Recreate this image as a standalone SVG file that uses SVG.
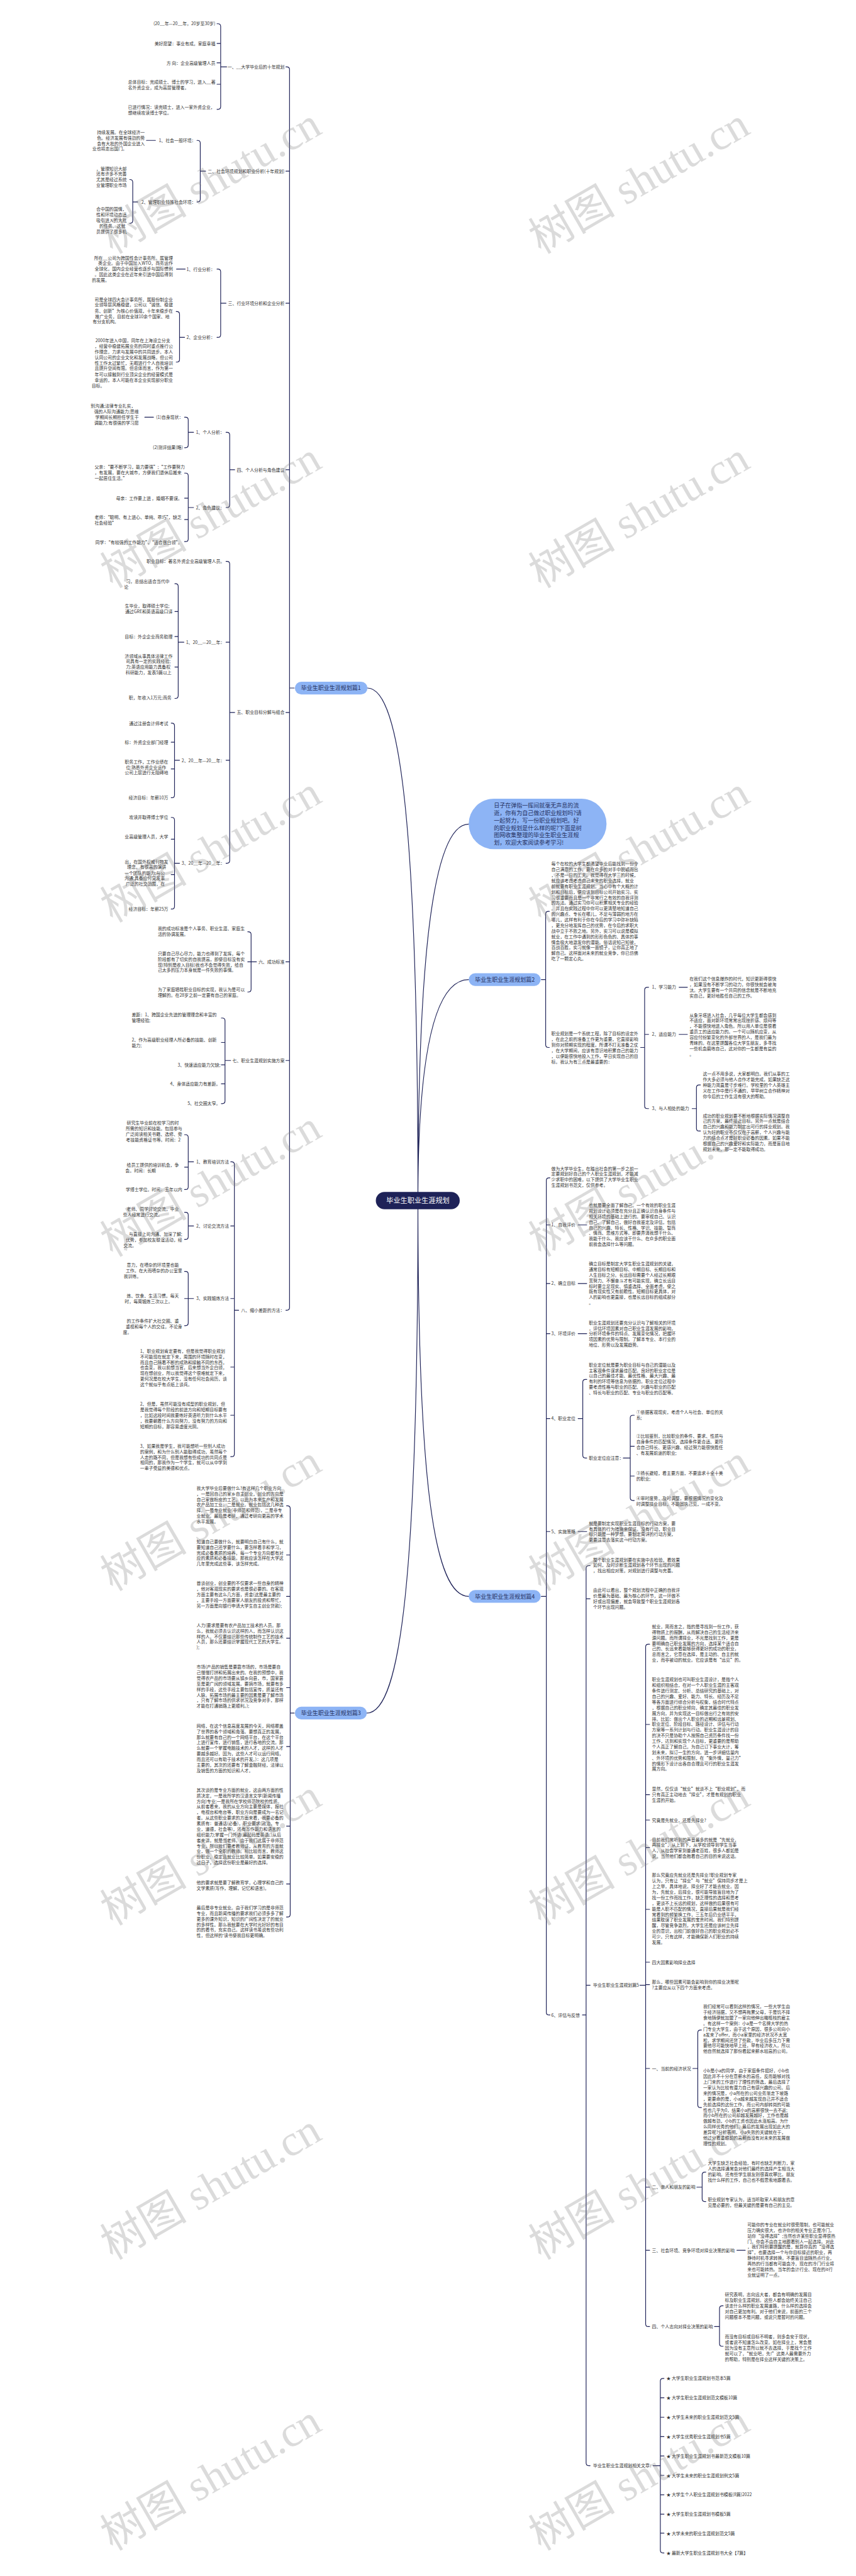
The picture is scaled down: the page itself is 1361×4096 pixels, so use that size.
<svg xmlns="http://www.w3.org/2000/svg" width="1361" height="4096" viewBox="0 0 1361 4096">
<style>
.c{fill:none;stroke:#1e2258;stroke-width:2.2;stroke-linecap:round;stroke-linejoin:round}
.t{font-family:"Noto Sans CJK SC","Noto Sans",sans-serif;font-size:13px;fill:#333}
.e{text-anchor:end}
.nd{fill:#8db4f5}
.nt{font-family:"Noto Sans CJK SC","Noto Sans",sans-serif;font-size:17px;fill:#26305e}
.wm{font-family:"Liberation Serif","Noto Sans CJK SC",serif;font-size:130px;fill:#808080;opacity:.28;text-anchor:middle}
</style>
<rect width="1361" height="4096" fill="#fff"/>
<g transform="scale(0.5316)">
<g id="connectors">
<path class="c" d="M1250,3591 C1250,2500 1200,2058 1099,2058 M1250,3591 C1250,4700 1200,5124 1097,5124 M1250,3591 C1250,2900 1290,2465 1402,2465 M1250,3591 C1250,3150 1300,2930 1402,2930 M1250,3591 C1250,4450 1300,4775 1402,4775"/>
<path class="c" d="M855,200 H858 Q866,200 866,208 V3911 Q866,3919 858,3919 H855 M866,512 H855 M866,907 H855 M866,1405 H855 M866,2131 H855 M866,2877 H855 M866,3172 H855 M880,2058 H866"/>
<path class="c" d="M649,71 H652 Q660,71 660,79 V319 Q660,327 652,327 H649 M660,130 H649 M660,188 H649 M660,252 H649 M678,200 H660"/>
<path class="c" d="M589,420 H591 Q599,420 599,428 V596 Q599,604 591,604 H589 M615,512 H599 M465,420 H438"/>
<path class="c" d="M388,537 H389 Q397,537 397,545 V660 Q397,668 389,668 H388 M412,604 H397"/>
<path class="c" d="M649,805 H652 Q660,805 660,813 V1001 Q660,1009 652,1009 H649 M676,907 H660 M554,805 H528"/>
<path class="c" d="M527,932 H529 Q537,932 537,940 V1075 Q537,1083 529,1083 H527 M552,1009 H537"/>
<path class="c" d="M676,1293 H679 Q687,1293 687,1301 V1510 Q687,1518 679,1518 H676 M702,1405 H687"/>
<path class="c" d="M552,1248 H555 Q563,1248 563,1256 V1331 Q563,1339 555,1339 H552 M579,1293 H563 M459,1248 H433"/>
<path class="c" d="M552,1415 H555 Q563,1415 563,1423 V1612 Q563,1620 555,1620 H552 M563,1490 H552 M563,1554 H552 M579,1518 H563"/>
<path class="c" d="M676,1679 H679 Q687,1679 687,1687 V2574 Q687,2582 679,2582 H676 M687,1921 H676 M687,2274 H676 M702,2131 H687"/>
<path class="c" d="M523,1746 H525 Q533,1746 533,1754 V2081 Q533,2089 525,2089 H523 M533,1829 H523 M533,1904 H523 M533,1995 H523 M550,1921 H533"/>
<path class="c" d="M512,2163 H514 Q522,2163 522,2171 V2378 Q522,2386 514,2386 H512 M522,2220 H512 M522,2300 H512 M537,2274 H522"/>
<path class="c" d="M512,2445 H514 Q522,2445 522,2453 V2711 Q522,2719 514,2719 H512 M522,2510 H512 M522,2616 H512 M537,2582 H522"/>
<path class="c" d="M741,2787 H743 Q751,2787 751,2795 V2959 Q751,2967 743,2967 H741 M767,2877 H741"/>
<path class="c" d="M662,3045 H665 Q673,3045 673,3053 V3293 Q673,3301 665,3301 H662 M673,3118 H662 M673,3185 H662 M673,3242 H662 M690,3172 H673"/>
<path class="c" d="M690,3475 H693 Q701,3475 701,3483 V4349 Q701,4357 693,4357 H690 M701,3667 H690 M701,3884 H690 M701,4089 H690 M701,4233 H690 M714,3919 H701"/>
<path class="c" d="M552,3394 H555 Q563,3394 563,3402 V3550 Q563,3558 555,3558 H552 M563,3491 H552 M579,3475 H563"/>
<path class="c" d="M552,3626 H555 Q563,3626 563,3634 V3699 Q563,3707 555,3707 H552 M579,3667 H563"/>
<path class="c" d="M552,3803 H555 Q563,3803 563,3811 V3957 Q563,3965 555,3965 H552 M579,3884 H552"/>
<path class="c" d="M857,4504 H860 Q868,4504 868,4512 V5726 Q868,5734 860,5734 H857 M868,4651 H857 M868,4775 H857 M868,4900 H857 M868,5048 H857 M868,5224 H857 M868,5462 H857 M868,5635 H857 M880,5124 H868"/>
<path class="c" d="M1643,2726 H1640 Q1632,2726 1632,2734 V3125 Q1632,3133 1640,3133 H1643 M1619,2930 H1632"/>
<path class="c" d="M1940,2953 H1936 Q1928,2953 1928,2961 V3308 Q1928,3316 1936,3316 H1940 M1928,3094 H1940 M1916,3133 H1928 M2031,2953 H2056 M2031,3094 H2056"/>
<path class="c" d="M2095,3245 H2091 Q2083,3245 2083,3253 V3375 Q2083,3383 2091,3383 H2095 M2070,3316 H2083"/>
<path class="c" d="M1645,3523 H1642 Q1634,3523 1634,3531 V6019 Q1634,6027 1642,6027 H1645 M1634,3664 H1645 M1634,3839 H1645 M1634,3989 H1645 M1634,4243 H1645 M1634,4581 H1645 M1619,4775 H1634"/>
<path class="c" d="M1729,3664 H1755 M1729,3839 H1755 M1729,3989 H1755 M1729,4581 H1755"/>
<path class="c" d="M1755,4126 H1751 Q1743,4126 1743,4134 V4353 Q1743,4361 1751,4361 H1755 M1729,4243 H1743"/>
<path class="c" d="M1897,4233 H1893 Q1885,4233 1885,4241 V4480 Q1885,4488 1893,4488 H1897 M1885,4326 H1897 M1885,4415 H1897 M1864,4361 H1885"/>
<path class="c" d="M1765,4683 H1761 Q1753,4683 1753,4691 V7367 Q1753,7375 1761,7375 H1765 M1753,4782 H1765 M1753,5938 H1765 M1742,6027 H1753"/>
<path class="c" d="M1943,4918 H1939 Q1931,4918 1931,4926 V6951 Q1931,6959 1939,6959 H1943 M1931,5158 H1943 M1931,5368 H1943 M1931,5444 H1943 M1931,5526 H1943 M1931,5711 H1943 M1931,5869 H1943 M1931,5936 H1943 M1931,6187 H1943 M1931,6542 H1943 M1931,6731 H1943 M1914,5938 H1931"/>
<path class="c" d="M2098,6072 H2095 Q2087,6072 2087,6080 V6296 Q2087,6304 2095,6304 H2098 M2072,6187 H2087"/>
<path class="c" d="M2111,6497 H2108 Q2100,6497 2100,6505 V6577 Q2100,6585 2108,6585 H2111 M2084,6542 H2100 M2204,6731 H2229"/>
<path class="c" d="M2163,6897 H2160 Q2152,6897 2152,6905 V7010 Q2152,7018 2160,7018 H2163 M2137,6959 H2152"/>
<path class="c" d="M1986,7114 H1983 Q1975,7114 1975,7122 V7628 Q1975,7636 1983,7636 H1986 M1975,7172 H1986 M1975,7230 H1986 M1975,7288 H1986 M1975,7346 H1986 M1975,7404 H1986 M1975,7462 H1986 M1975,7520 H1986 M1975,7577 H1986 M1953,7375 H1975"/>
</g>

<g id="center">
<rect x="1124" y="3565" width="251" height="52" rx="26" fill="#1e2258"/>
<text x="1250" y="3598" text-anchor="middle" style="font-family:'Noto Sans CJK SC',sans-serif;font-size:21px;fill:#fff">毕业生职业生涯规划</text>
</g>

<g id="intro">
<rect class="nd" x="1402" y="2389" width="412" height="151" rx="75"/>
<text class="nt" x="1477" y="2415">日子在弹指一挥间就毫无声息的流<tspan x="1477" dy="22.4">逝，你有为自己做过职业规划吗?请</tspan><tspan x="1477" dy="22.4">一起努力，写一份职业规划吧。好</tspan><tspan x="1477" dy="22.4">的职业规划是什么样的呢?下面是树</tspan><tspan x="1477" dy="22.4">图网收集整理的毕业生职业生涯规</tspan><tspan x="1477" dy="22.4">划，欢迎大家阅读参考学习!</tspan></text>
</g>

<g id="p1">
<rect class="nd" x="882" y="2039" width="217" height="38" rx="19"/>
<text class="nt" x="990" y="2064" text-anchor="middle">毕业生职业生涯规划篇1</text>
<text class="t e" x="851" y="205">一、__大学毕业后的十年规划</text>
<text class="t e" x="851" y="517">二、社会环境规划和职业分析(十年规划)</text>
<text class="t e" x="851" y="912">三、行业环境分析和企业分析</text>
<text class="t e" x="851" y="1410">四、个人分析与角色建议</text>
<text class="t e" x="851" y="2136">五、职业目标分解与组合</text>
<text class="t e" x="851" y="2882">六、成功标准</text>
<text class="t e" x="851" y="3177">七、职业生涯规划实施方案</text>
<text class="t e" x="851" y="3924">八、缩小差距的方法：</text>

<text class="t e" x="644" y="76">(20__年—20__年，20岁至30岁)</text>
<text class="t e" x="644" y="135">美好愿望：事业有成，家庭幸福</text>
<text class="t e" x="644" y="193">方 向：企业高级管理人员</text>
<text class="t" x="383" y="251">总体目标：完成硕士、博士的学习，进入__著<tspan x="383" dy="16.7">名外资企业，成为高层管理者。</tspan></text>
<text class="t" x="383" y="325">已进行情况：读完硕士，进入一家外资企业，<tspan x="383" dy="16.7">想继续攻读博士学位。</tspan></text>

<text class="t e" x="586" y="425">1、社会一般环境：</text>
<text class="t e" x="586" y="609">2、管理职业特殊社会环境：</text>
<text class="t e" x="433" y="401">持续发展。在全球经济一</text>
<text class="t e" x="433" y="417">色。经济发展有强劲的势</text>
<text class="t e" x="433" y="434">会有大批的外国企业进入</text>
<text class="t e" x="380" y="450">业也将走出国门。</text>
<text class="t e" x="379" y="509">，管理知识大部</text>
<text class="t e" x="379" y="525">还有许多不完善</text>
<text class="t e" x="379" y="542">尤其是经过系统</text>
<text class="t e" x="379" y="559">业管理职业市场</text>
<text class="t e" x="379" y="631">合中国的国情，</text>
<text class="t e" x="379" y="647">性和环境动态适</text>
<text class="t e" x="379" y="664">吸引进入的大批</text>
<text class="t e" x="375" y="681">的任务。这就</text>
<text class="t e" x="379" y="698">员提供了很多机</text>

<text class="t e" x="643" y="810">1、行业分析：</text>
<text class="t e" x="643" y="1014">2、企业分析：</text>
<text class="t e" x="517" y="776">所在__公司为跨国性会计事务所。属管理</text>
<text class="t e" x="517" y="792">类企业。由于中国加入WTO，商务运作</text>
<text class="t e" x="517" y="809">全球化，国内企业经营也逐步与国际惯例</text>
<text class="t e" x="517" y="826">。因此这类企业在近年来引进中国后得到</text>
<text class="t e" x="327" y="842">的发展。</text>
<text class="t e" x="517" y="901">司是全球四大会计事务所，属股份制企业</text>
<text class="t e" x="517" y="917">业领导层风格稳健，公司以“诚信、稳健</text>
<text class="t e" x="517" y="934">务、创新”为核心价值观，十年来稳步在</text>
<text class="t e" x="507" y="951">推广业务，目前在全球10余个国家、地</text>
<text class="t e" x="355" y="967">有分支机构。</text>
<text class="t e" x="509" y="1024">2000年进入中国，同年在上海设立分支</text>
<text class="t e" x="517" y="1040">，经营中稳健拓展业务的同时重点推行公</text>
<text class="t e" x="517" y="1057">作理念，力求与发展中的共同进步。本人</text>
<text class="t e" x="517" y="1074">认同公司的企业文化和发展战略，但公司</text>
<text class="t e" x="517" y="1091">性工作太过繁忙，无暇进行个人自我培训</text>
<text class="t e" x="517" y="1107">且提升空间有限。但总体而言，作为第一</text>
<text class="t e" x="517" y="1124">年可以接触到行业顶尖企业的经营模式是</text>
<text class="t e" x="517" y="1141">幸运的，本人可能在本企业实现部分职业</text>
<text class="t e" x="313" y="1158">目标。</text>

<text class="t e" x="671" y="1298">1、个人分析：</text>
<text class="t e" x="671" y="1523">2、角色建议：</text>
<text class="t e" x="548" y="1253">(1)自身现状：</text>
<text class="t e" x="547" y="1344">(2)测评结果(略)</text>
<text class="t e" x="405" y="1219">别沟通;法律专业扎实，</text>
<text class="t e" x="415" y="1235">强的人际沟通能力;思维</text>
<text class="t e" x="415" y="1252">学期间长期担任学生干</text>
<text class="t e" x="415" y="1269">调能力;有很强的学习愿</text>
<text class="t" x="283" y="1402">父亲：“要不断学习，能力要强”;“工作要努力<tspan x="283" dy="16.7">，有发展，要在大城市，方便我们退休后搬来</tspan><tspan x="283" dy="16.7">一起居住生活。”</tspan></text>
<text class="t e" x="545" y="1495">母亲：工作要上进 ，婚姻不要误。</text>
<text class="t" x="283" y="1552">老师：“聪明、有上进心、单纯、乖巧”，缺乏<tspan x="283" dy="16.7">社会经验”</tspan></text>
<text class="t e" x="545" y="1627">同学：“有较强的工作能力”，“适合做白领”。</text>

<text class="t e" x="672" y="1684">职业目标：著名外资企业高级管理人员。</text>
<text class="t e" x="672" y="1926">1、20__—20__年：</text>
<text class="t e" x="672" y="2279">2、20__年—20__年：</text>
<text class="t e" x="672" y="2587">3、20__年—20__年：</text>
<text class="t e" x="507" y="1743">习，总结出适合当代中</text>
<text class="t e" x="384" y="1760">论</text>
<text class="t e" x="507" y="1818">生毕业，取得硕士学位;</text>
<text class="t e" x="516" y="1834">通过GRE和英语高级口译</text>
<text class="t e" x="516" y="1909">目标：外企企业商务助理</text>
<text class="t e" x="516" y="1967">济领域从事具体法律工作</text>
<text class="t e" x="510" y="1983">司具有一定的实践经验;</text>
<text class="t e" x="510" y="2000">力;英语应用能力具备权</text>
<text class="t e" x="513" y="2017">科研能力，发表5篇以上</text>
<text class="t e" x="513" y="2092">职，年收入1万元;商务</text>
<text class="t e" x="503" y="2168">通过注册会计师考试</text>
<text class="t e" x="503" y="2225">标：外资企业部门经理</text>
<text class="t e" x="503" y="2283">职务工作，工作业绩在</text>
<text class="t e" x="497" y="2300">位;熟悉外资企业运作</text>
<text class="t e" x="503" y="2316">公司上层进行无阻碍地</text>
<text class="t e" x="503" y="2391">经济目标：年薪10万</text>
<text class="t e" x="503" y="2450">攻读并取得博士学位</text>
<text class="t e" x="503" y="2508">业高级管理人员，大学</text>
<text class="t e" x="503" y="2582">出，在国外权威刊物发</text>
<text class="t e" x="497" y="2598">理念，有很高的演讲</text>
<text class="t e" x="493" y="2616">一个团队的能力;与公</text>
<text class="t e" x="493" y="2632">沟通;具备应付突发事</text>
<text class="t e" x="493" y="2649">广泛的社交范围，在</text>
<text class="t e" x="503" y="2724">经济目标：年薪25万</text>

<text class="t" x="472" y="2783">我的成功标准是个人事务、职业生涯、家庭生<tspan x="472" dy="16.7">活的协调发展。</tspan></text>
<text class="t" x="472" y="2857">只要自己尽心尽力，能力也得到了发挥，每个<tspan x="472" dy="16.7">阶段都有了切实的自我提高，即使目标没有实</tspan><tspan x="472" dy="16.7">现(特别是收入目标)我也不会觉得失败，给自</tspan><tspan x="472" dy="16.7">己太多的压力本身就是一件失败的事情。</tspan></text>
<text class="t" x="472" y="2965">为了家庭牺牲职业目标的实现，我认为是可以<tspan x="472" dy="16.7">理解的。在28岁之前一定要有自己的家庭。</tspan></text>

<text class="t" x="394" y="3040">差距：1、跨国企业先进的管理理念和丰富的<tspan x="394" dy="16.7">管理经验;</tspan></text>
<text class="t" x="394" y="3115">2、作为高级职业经理人所必备的技能、创新<tspan x="394" dy="16.7">能力;</tspan></text>
<text class="t e" x="659" y="3190">3、快速适应能力欠缺;</text>
<text class="t e" x="659" y="3247">4、身体适应能力有差距。</text>
<text class="t e" x="659" y="3306">5、社交圈太窄。</text>

<text class="t e" x="685" y="3480">1、教育培训方法</text>
<text class="t e" x="685" y="3672">2、讨论交流方法</text>
<text class="t e" x="685" y="3889">3、实践锻炼方法</text>
<text class="t e" x="535" y="3364">研究生毕业前在校学习的时</text>
<text class="t e" x="545" y="3380">所需的知识和技能。包括参与</text>
<text class="t e" x="545" y="3397">广泛阅读相关书籍、选修、旁</text>
<text class="t e" x="540" y="3414">考技能资格证书等。时间：2</text>
<text class="t e" x="535" y="3489">给员工提供的培训机会，争</text>
<text class="t e" x="466" y="3506">会。时间：长期</text>
<text class="t e" x="545" y="3563">学博士学位。时间：五年以内</text>
<text class="t e" x="535" y="3622">老师、同学讨论交流，毕业</text>
<text class="t e" x="485" y="3639">些人经常进行交流。</text>
<text class="t e" x="545" y="3696">与直接上司沟通、加深了解;</text>
<text class="t e" x="545" y="3713">优势，参加校友联谊活动，经</text>
<text class="t e" x="408" y="3730">交流。</text>
<text class="t e" x="535" y="3788">意力，在嘈杂的环境里也能</text>
<text class="t e" x="545" y="3805">工作。在大而嘈杂的办公室里</text>
<text class="t e" x="422" y="3822">我训练。</text>
<text class="t e" x="535" y="3880">炼、饮食、生活习惯。每天</text>
<text class="t e" x="516" y="3897">时，每周锻炼三次以上。</text>
<text class="t e" x="535" y="3956">的工作条件扩大社交圈、重</text>
<text class="t e" x="545" y="3972">重视和每个人的交往，不论身</text>
<text class="t e" x="394" y="3989">度。</text>

<text class="t" x="419" y="4046">1、职业规划肯定要有，但是我觉得职业规划<tspan x="419" dy="16.7">不可能现在就定下来，周围的环境随时在变，</tspan><tspan x="419" dy="16.7">而且自己随着不断的成熟和接触不同的东西，</tspan><tspan x="419" dy="16.7">也会变。我以前想当官，后来想当外企白领，</tspan><tspan x="419" dy="16.7">现在想创业，所以我觉得这个很难就定下来，</tspan><tspan x="419" dy="16.7">更何况是在校大学生，没有任何社会阅历，谈</tspan><tspan x="419" dy="16.7">这个就似乎有点纸上谈兵。</tspan></text>
<text class="t" x="419" y="4205">2、但是，虽然可能没有成型的职业规划，但<tspan x="419" dy="16.7">是我觉得每个阶段的前进方向和短期目标要有</tspan><tspan x="419" dy="16.7">，比如这段时间我要练好英语听力到什么水平</tspan><tspan x="419" dy="16.7">，我要朝着什么方向努力，没有努力的方向和</tspan><tspan x="419" dy="16.7">短期的目标，那容易虚度光阴。</tspan></text>
<text class="t" x="419" y="4330">3、如果我是学生，我可能想听一些别人成功<tspan x="419" dy="16.7">的案例，和为什么别人能取得成功，虽然每个</tspan><tspan x="419" dy="16.7">人走的路不同，但是我想有些成功的共同点是</tspan><tspan x="419" dy="16.7">相同的，那我作为一个学生，就可以从中学到</tspan><tspan x="419" dy="16.7">一辈子受益的美德和优点。</tspan></text>
</g>

<g id="p3">
<rect class="nd" x="882" y="5105" width="215" height="38" rx="19"/>
<text class="nt" x="990" y="5130" text-anchor="middle">毕业生职业生涯规划篇3</text>
<text class="t" x="588" y="4456">我大学毕业后要做什么?有这样几个职业方向<tspan x="588" dy="16.7">，一是回自己的家乡自主创业，创业的方向是</tspan><tspan x="588" dy="16.7">自己家做粉皮的工艺，以此为本来生产和发展</tspan><tspan x="588" dy="16.7">农产品加工业；二是就业。就业包括这几种选</tspan><tspan x="588" dy="16.7">择。一是专业就业(非师范和师范)，二是非专</tspan><tspan x="588" dy="16.7">业就业。最后是考研，通过考研向更高的学术</tspan><tspan x="588" dy="16.7">水平发展。</tspan></text>
<text class="t" x="588" y="4616">知道自己要做什么，就要明白自己有什么，就<tspan x="588" dy="16.7">要知道自己还学要什么，要怎样着手和学习，</tspan><tspan x="588" dy="16.7">完成必备素质的培养。每一个专业方向都有对</tspan><tspan x="588" dy="16.7">应的素质和必备技能。那我应该怎样在大学这</tspan><tspan x="588" dy="16.7">几年里完成这些事，该怎样完成。</tspan></text>
<text class="t" x="588" y="4741">首谈创业，创业要的不仅要求一些自身的精神<tspan x="588" dy="16.7">，他对客观现实的要求也是很必要的。在客观</tspan><tspan x="588" dy="16.7">方面主要有这么几方面，资金(这是最主要的</tspan><tspan x="588" dy="16.7">，主要手段一方面要家人朋友的投资和帮忙，</tspan><tspan x="588" dy="16.7">另一方面是向银行申请大学生自主创业贷款);</tspan></text>
<text class="t" x="588" y="4866">人力(要求是要有农产品加工技术的人员。那<tspan x="588" dy="16.7">么，我就必须去认识这样的人，而怎样认识这</tspan><tspan x="588" dy="16.7">样的人，不仅要结识那些传统制作工艺的技术</tspan><tspan x="588" dy="16.7">人员，那么还要结识掌握现代工艺的大学生。</tspan><tspan x="588" dy="16.7">);</tspan></text>
<text class="t" x="588" y="4991">市场(产品的销售是要靠市场的，市场是要自<tspan x="588" dy="16.7">己慢慢打拼和拓展出来的。在我的预想中，我</tspan><tspan x="588" dy="16.7">觉得农产品的市场要从镇乡向县，市，国家甚</tspan><tspan x="588" dy="16.7">至是更广阔的领域发展。要搞市场，就要有多</tspan><tspan x="588" dy="16.7">样的手段，这些手段主要包括宣传，质量还有</tspan><tspan x="588" dy="16.7">人脉。拓展市场的最主要的因素是要了解市场</tspan><tspan x="588" dy="16.7">，只有了解市场的供求状况及竞争对手，那样</tspan><tspan x="588" dy="16.7">才能在打通销路上更顺利。);</tspan></text>
<text class="t" x="588" y="5167">网络，在这个信息高度发展的今天，网络覆盖<tspan x="588" dy="16.7">了世界的各个领域和角落。要想真正的发展，</tspan><tspan x="588" dy="16.7">那么就要有自己的一个网络平台，在这个平台</tspan><tspan x="588" dy="16.7">上进行宣传，进行销售，进行各地的交流。那</tspan><tspan x="588" dy="16.7">么就要一个掌握电脑技术的人才，这样的人才</tspan><tspan x="588" dy="16.7">要越多越好。因为，这些人才可以运行网络，</tspan><tspan x="588" dy="16.7">而且还可以有助于技术的开发。)：这几项是</tspan><tspan x="588" dy="16.7">主要的，其次的还要有了解金融财经，法律以</tspan><tspan x="588" dy="16.7">及销售的方面的知识和人才。</tspan></text>
<text class="t" x="588" y="5359">其次谈的是专业方面的就业，这由两方面的性<tspan x="588" dy="16.7">质决定，一是我所学的汉语言文学(新闻传播</tspan><tspan x="588" dy="16.7">方向)专业;一是我所在学校师范院校的性质。</tspan><tspan x="588" dy="16.7">从前者看来，我的从业方向主要是媒体，报社</tspan><tspan x="588" dy="16.7">，电视台和电台等，职业方向是要成为一名记</tspan><tspan x="588" dy="16.7">者。从这些职业要求的方面来看，我要必备的</tspan><tspan x="588" dy="16.7">素质有：普通话(必备)，职业要求(政治，专</tspan><tspan x="588" dy="16.7">业，道德，社会等)，还有写作能力和语言的</tspan><tspan x="588" dy="16.7">组织能力;掌握一门外语(最起码是英语。)从后</tspan><tspan x="588" dy="16.7">者来讲，就是当老师。由于我们这属于非师范</tspan><tspan x="588" dy="16.7">专业，所以我们要考教师证，从教育的方面就</tspan><tspan x="588" dy="16.7">业，做一个全职的教师。相比较而言，教师这</tspan><tspan x="588" dy="16.7">份职业，稳定且就业比较简单。如果要安稳的</tspan><tspan x="588" dy="16.7">过日子，选择这份职业是最好的选择。</tspan></text>
<text class="t" x="588" y="5636">他的要求就是要了解教育学，心理学和自己的<tspan x="588" dy="16.7">文学素质(写作，理解，记忆和语言)。</tspan></text>
<text class="t" x="588" y="5711">最后是非专业就业。由于我们学习的是非师范<tspan x="588" dy="16.7">专业，而且新闻传播的要求我们必须多多了解</tspan><tspan x="588" dy="16.7">更多的课外知识，知识的广阔性决定了的就业</tspan><tspan x="588" dy="16.7">的多样性。那么我就要在大学时光好好的有目</tspan><tspan x="588" dy="16.7">的的看书，充实自己。这样读书虽说有些功利</tspan><tspan x="588" dy="16.7">性，但这样的'读书使我目标更明确。</tspan></text>
</g>

<g id="p2">
<rect class="nd" x="1402" y="2911" width="215" height="38" rx="19"/>
<text class="nt" x="1510" y="2936" text-anchor="middle">毕业生职业生涯规划篇2</text>
<text class="t" x="1649" y="2589">每个在校的大学生都渴望毕业后能找到一份令<tspan x="1649" dy="16.7">自己满意的工作。要在众多的对手中脱颖而出</tspan><tspan x="1649" dy="16.7">，不是一日的工夫。我觉得在大学三的时候，</tspan><tspan x="1649" dy="16.7">就应该考虑考虑自己未来的职业选择，就业</tspan><tspan x="1649" dy="16.7">前就要有职业生涯规划。当心中有个大概的计</tspan><tspan x="1649" dy="16.7">划和目标后，便应该到目标公司开始实习。实</tspan><tspan x="1649" dy="16.7">习很重要而且是一个非常行之有效的自我评测</tspan><tspan x="1649" dy="16.7">的方法。通过实习你可以积累相关专业的经验</tspan><tspan x="1649" dy="16.7">。并且在实践过程中你可以更清楚地知道自己</tspan><tspan x="1649" dy="16.7">的兴趣点、专长在哪儿，不足与薄弱的地方在</tspan><tspan x="1649" dy="16.7">哪儿，这样有利于你在今后的学习中弥补缺陷</tspan><tspan x="1649" dy="16.7">，更充分地发挥自己的优势，在今后的求职大</tspan><tspan x="1649" dy="16.7">战中立于不败之地。另外，实习可以说是模拟</tspan><tspan x="1649" dy="16.7">就业，在工作中遇到的形形色色的、具体的事</tspan><tspan x="1649" dy="16.7">情会极大地激发你的潜能。俗话说知己知彼，</tspan><tspan x="1649" dy="16.7">百战百胜，实习就像一面镜子，让你真正地了</tspan><tspan x="1649" dy="16.7">解自己。这样面对未来的就业竞争，你已仿佛</tspan><tspan x="1649" dy="16.7">吃了一颗定心丸。</tspan></text>
<text class="t" x="1649" y="3097">职业规划是一个系统工程，除了目标的设定外<tspan x="1649" dy="16.7">，在此之前的准备工作更为重要，它直接影响</tspan><tspan x="1649" dy="16.7">到你对预期实现的程度。所谓不打无准备之仗</tspan><tspan x="1649" dy="16.7">，在大学期间，应该有意识地积累自己的能力</tspan><tspan x="1649" dy="16.7">，以便能很快地投入工作，早日实现自己的目</tspan><tspan x="1649" dy="16.7">标。我认为有三点是最重要的：</tspan></text>
<text class="t" x="1950" y="2958">1、学习能力</text>
<text class="t" x="1950" y="3099">2、适应能力</text>
<text class="t" x="1950" y="3321">3、与人相处的能力</text>
<text class="t" x="2062" y="2933">在我们这个信息爆炸的时代，知识更新得很快<tspan x="2062" dy="16.7">，如果没有不断学习的动力，你很快就会被淘</tspan><tspan x="2062" dy="16.7">汰。大学生要有一个共同的信念就是不断地充</tspan><tspan x="2062" dy="16.7">实自己，更好地胜任自己的工作。</tspan></text>
<text class="t" x="2062" y="3041">从象牙塔进入社会，几乎每位大学生都会感到<tspan x="2062" dy="16.7">不适应，面对新环境常常出现挫折感、烦闷等</tspan><tspan x="2062" dy="16.7">，不能很快地进入角色。所以用人单位是很看</tspan><tspan x="2062" dy="16.7">重员工的适应能力的。一个可以随机应变，从</tspan><tspan x="2062" dy="16.7">容应付纷繁变化的外部世界的人，是我们最为</tspan><tspan x="2062" dy="16.7">青睐的。在这里提醒各位大学生朋友，多寻找</tspan><tspan x="2062" dy="16.7">一些机会磨练自己，这对你的一生都是有益的</tspan><tspan x="2062" dy="16.7">。</tspan></text>
<text class="t" x="2102" y="3217">这一点不用多说，大家都明白。我们从事的工<tspan x="2102" dy="16.7">作大多必须与他人合作才能完成，如果缺乏这</tspan><tspan x="2102" dy="16.7">种能力简直是寸步难行。学校里的个人英雄主</tspan><tspan x="2102" dy="16.7">义在工作中是行不通的，早早树立合作精神对</tspan><tspan x="2102" dy="16.7">你今后的工作生活有很大的帮助。</tspan></text>
<text class="t" x="2102" y="3342">成功的职业规划要不断地根据实际情况调整自<tspan x="2102" dy="16.7">己的方案，最终接近目标。另外一点就是结合</tspan><tspan x="2102" dy="16.7">自己的兴趣和能力制定出可行的择业规划。我</tspan><tspan x="2102" dy="16.7">认为好的职业不仅仅在于高薪，个人兴趣与能</tspan><tspan x="2102" dy="16.7">力的结合点才是好职业必备的因素。如果不能</tspan><tspan x="2102" dy="16.7">根据自己的兴趣爱好和实际能力，而是盲目地</tspan><tspan x="2102" dy="16.7">规划未来，那一定不能取得成功。</tspan></text>
</g>

<g id="p4">
<rect class="nd" x="1402" y="4756" width="215" height="38" rx="19"/>
<text class="nt" x="1510" y="4781" text-anchor="middle">毕业生职业生涯规划篇4</text>
<text class="t" x="1649" y="3500">做为大学毕业生，在踏出社会的第一步之前一<tspan x="1649" dy="16.7">定要规划好自己的个人职业生涯规划，才能减</tspan><tspan x="1649" dy="16.7">少求职中的困难，以下提供了大学毕业生职业</tspan><tspan x="1649" dy="16.7">生涯规划书范文，仅供参考。</tspan></text>
<text class="t" x="1649" y="3669">1、自我评价</text>
<text class="t" x="1649" y="3844">2、确立目标</text>
<text class="t" x="1649" y="3994">3、环境评价</text>
<text class="t" x="1649" y="4248">4、职业定位</text>
<text class="t" x="1649" y="4586">5、实施策略</text>
<text class="t" x="1649" y="6032">6、评估与反馈</text>
<text class="t" x="1761" y="3610">也就是要全面了解自己。一个有效的职业生涯<tspan x="1761" dy="16.7">规划设计必须是在充分且正确认识自身条件与</tspan><tspan x="1761" dy="16.7">相关环境的基础上进行的。要审视自己、认识</tspan><tspan x="1761" dy="16.7">自己、了解自己，做好自我鉴定及评估，包括</tspan><tspan x="1761" dy="16.7">自己的兴趣、特长、性格、学识、技能、智商</tspan><tspan x="1761" dy="16.7">、情商、思维方式等。即要弄清我想干什么、</tspan><tspan x="1761" dy="16.7">我能干什么、我应该干什么、在众多的职业面</tspan><tspan x="1761" dy="16.7">前我会选择什么等问题。</tspan></text>
<text class="t" x="1761" y="3785">确立目标是制定大学生职业生涯规划的关键，<tspan x="1761" dy="16.7">通常目标有短期目标、中期目标、长期目标和</tspan><tspan x="1761" dy="16.7">人生目标之分。长远目标需要个人经过长期艰</tspan><tspan x="1761" dy="16.7">苦努力、不懈奋斗才有可能实现，确立长远目</tspan><tspan x="1761" dy="16.7">标时要立足现实、慎重选择、全面考虑，使之</tspan><tspan x="1761" dy="16.7">既有现实性又有前瞻性。短期目标更具体，对</tspan><tspan x="1761" dy="16.7">人的影响也更直接，也是长远目标的组成部分</tspan><tspan x="1761" dy="16.7">。</tspan></text>
<text class="t" x="1761" y="3961">职业生涯规划还要充分认识与了解相关的环境<tspan x="1761" dy="16.7">，评估环境因素对自己职业生涯发展的影响，</tspan><tspan x="1761" dy="16.7">分析环境条件的特点、发展变化情况，把握环</tspan><tspan x="1761" dy="16.7">境因素的优势与限制。了解本专业、本行业的</tspan><tspan x="1761" dy="16.7">地位、形势以及发展趋势。</tspan></text>
<text class="t" x="1761" y="4087">职业定位就是要为职业目标与自己的潜能以及<tspan x="1761" dy="16.7">主客观条件谋求最佳匹配。良好的职业定位是</tspan><tspan x="1761" dy="16.7">以自己的最佳才能、最优性格、最大兴趣、最</tspan><tspan x="1761" dy="16.7">有利的环境等信息为依据的。职业定位过程中</tspan><tspan x="1761" dy="16.7">要考虑性格与职业的匹配、兴趣与职业的匹配</tspan><tspan x="1761" dy="16.7">、特长与职业的匹配、专业与职业的匹配等。</tspan></text>
<text class="t" x="1761" y="4366">职业定位应注意：</text>
<text class="t" x="1903" y="4229">①依据客观现实，考虑个人与社会、单位的关<tspan x="1903" dy="16.7">系;</tspan></text>
<text class="t" x="1903" y="4300">②比较鉴别，比较职业的条件、要求、性质与<tspan x="1903" dy="16.7">自身条件的匹配情况，选择条件更合适、更符</tspan><tspan x="1903" dy="16.7">合自己特长、更感兴趣、经过努力能很快胜任</tspan><tspan x="1903" dy="16.7">、有发展前途的职业;</tspan></text>
<text class="t" x="1903" y="4412">③扬长避短，看主要方面，不要追求十全十美<tspan x="1903" dy="16.7">的职业;</tspan></text>
<text class="t" x="1903" y="4487">④审时度势，及时调整，要根据情况的变化及<tspan x="1903" dy="16.7">时调整择业目标，不能固执己见，一成不变。</tspan></text>
<text class="t" x="1761" y="4561">就是要制定实现职业生涯目标的行动方案，要<tspan x="1761" dy="16.7">有具体的行为措施来保证。没有行动，职业目</tspan><tspan x="1761" dy="16.7">标只能是一种梦想。要制定周详的行动方案，</tspan><tspan x="1761" dy="16.7">更要注意去落实这一行动方案。</tspan></text>
<text class="t" x="1774" y="4670">整个职业生涯规划要在实施中去检验，看效果<tspan x="1774" dy="16.7">如何，及时诊断生涯规划各个环节出现的问题</tspan><tspan x="1774" dy="16.7">，找出相应对策，对规划进行调整与完善。</tspan></text>
<text class="t" x="1774" y="4762">由此可以看出，整个规划流程中正确的自我评<tspan x="1774" dy="16.7">价是最为基础、最为核心的环节，这一环做不</tspan><tspan x="1774" dy="16.7">好或出现偏差，就会导致整个职业生涯规划各</tspan><tspan x="1774" dy="16.7">个环节出现问题。</tspan></text>
<text class="t" x="1774" y="5943">毕业生职业生涯规划篇5</text>
<text class="t" x="1950" y="4870">就业，简而言之，指的是寻找到一份工作，获<tspan x="1950" dy="16.7">得物质上的报酬，从而解决自己的生活经济来</tspan><tspan x="1950" dy="16.7">源问题。而所谓择业，不光是找到工作，更是</tspan><tspan x="1950" dy="16.7">要明确自己职业发展的方向，选择某个适合自</tspan><tspan x="1950" dy="16.7">己的、长远来看能够获得更好的成功的职业，</tspan><tspan x="1950" dy="16.7">总而言之，它意在选择，是主动的、自主的就</tspan><tspan x="1950" dy="16.7">业，而非被动的就业。它应该是有“远见”的。</tspan></text>
<text class="t" x="1950" y="5029">职业生涯规划也可叫职业生涯设计，是指个人<tspan x="1950" dy="16.7">和组织相结合，在对一个人职业生涯的主客观</tspan><tspan x="1950" dy="16.7">条件进行测定、分析、总结研究的基础上，对</tspan><tspan x="1950" dy="16.7">自己的兴趣、爱好、能力、特长、经历及不足</tspan><tspan x="1950" dy="16.7">等各方面进行综合分析与权衡，结合时代特点</tspan><tspan x="1950" dy="16.7">，根据自己的职业倾向，确定其最佳的职业发</tspan><tspan x="1950" dy="16.7">展方向，并为实现这一目标做出行之有效的安</tspan><tspan x="1950" dy="16.7">排。比如：做出个人职业的近期和远景规划、</tspan><tspan x="1950" dy="16.7">职业定位、阶段目标、路径设计、评估与行动</tspan><tspan x="1950" dy="16.7">方案等一系列计划与行动。职业生涯设计的目</tspan><tspan x="1950" dy="16.7">的决不只是协助个人按照自己资历条件找一份</tspan><tspan x="1950" dy="16.7">工作，达到和实现个人目标，更重要的是帮助</tspan><tspan x="1950" dy="16.7">个人真正了解自己，为自己订下事业大计，筹</tspan><tspan x="1950" dy="16.7">划未来，拟订一生的方向，进一步详细估量内</tspan><tspan x="1950" dy="16.7">、外环境的优势和限制，在“衡外情，量己力”</tspan><tspan x="1950" dy="16.7">的情形下设计出各自合理且可行的职业生涯发</tspan><tspan x="1950" dy="16.7">展方向。</tspan></text>
<text class="t" x="1950" y="5356">显然，仅仅谈“就业”就谈不上“职业规划”，而<tspan x="1950" dy="16.7">只有真正主动地去“择业”，才是有规划的职业</tspan><tspan x="1950" dy="16.7">生涯的开始。</tspan></text>
<text class="t" x="1950" y="5449">究竟是先就业，还是先择业?</text>
<text class="t" x="1950" y="5507">目前我们常听到的声音最多的就是“先就业，<tspan x="1950" dy="16.7">再择业”，从上到下，从学校领导到学生当事</tspan><tspan x="1950" dy="16.7">人，从社会学家到普通老百姓，很多人都如是</tspan><tspan x="1950" dy="16.7">说。当然他们都会抱着自己的目的来说这话。</tspan></text>
<text class="t" x="1950" y="5614">那么究竟应先就业还是先择业?职业规划专家<tspan x="1950" dy="16.7">认为，只有让“择业”与“就业”保持同步才是上</tspan><tspan x="1950" dy="16.7">上之举，具体地说，择业好了才能去就业。因</tspan><tspan x="1950" dy="16.7">为，先就业，后择业，很可能导致盲目地为了</tspan><tspan x="1950" dy="16.7">找一份工作而找工作，缺乏理性的选择和思考</tspan><tspan x="1950" dy="16.7">，更谈不上长远的规划，这样做的后果很有可</tspan><tspan x="1950" dy="16.7">能是人职不匹配的情况，直接后果就是我们经</tspan><tspan x="1950" dy="16.7">常看到的频繁换工作，三五年后仍业绩平平，</tspan><tspan x="1950" dy="16.7">结果耽误了职业发展的宝贵时间。我们特别提</tspan><tspan x="1950" dy="16.7">醒，尽管竞争激烈，大学生还是应该树立先择</tspan><tspan x="1950" dy="16.7">业的意识，出校门前做好自己的职业规划必不</tspan><tspan x="1950" dy="16.7">可少。只有这样，才能确保新人们职业的持续</tspan><tspan x="1950" dy="16.7">发展。</tspan></text>
<text class="t" x="1950" y="5874">四大因素影响择业选择</text>
<text class="t" x="1950" y="5933">那么，哪些因素可能会影响到你的择业决策呢<tspan x="1950" dy="16.7">?主要应从以下四个方面来考虑。</tspan></text>
<text class="t" x="1950" y="6192">一、当前的经济状况</text>
<text class="t" x="2103" y="6007">我们经常可以看到这样的情况，一些大学生由<tspan x="2103" dy="16.7">于经济拮据，又不想再拖累父母，于是饥不择</tspan><tspan x="2103" dy="16.7">食地随便就加盟了一家向他伸出橄榄枝的雇主</tspan><tspan x="2103" dy="16.7">。有这样一个案例：小a是一个名牌大学的热</tspan><tspan x="2103" dy="16.7">门专业大学生，由于这个原因，很多公司向小</tspan><tspan x="2103" dy="16.7">a发来了offer，而小a家里的经济状况不太宽</tspan><tspan x="2103" dy="16.7">松，求学期间还贷了些款，毕业后多压力下需</tspan><tspan x="2103" dy="16.7">要他尽可能快地早上班，早有经济收入，所以</tspan><tspan x="2103" dy="16.7">他自然就选择了那份看起来薪水较高的公司。</tspan></text>
<text class="t" x="2103" y="6199">小b是小a的同学，由于家庭条件挺好，小b也<tspan x="2103" dy="16.7">因此并不十分在意薪水的高低，反而能够对找</tspan><tspan x="2103" dy="16.7">上门来的工作进行了理性的筛选，最后选择了</tspan><tspan x="2103" dy="16.7">一家认为比较有潜力自己有感兴趣的公司。后</tspan><tspan x="2103" dy="16.7">来的情况是，小a所在的公司业务渐走下坡路</tspan><tspan x="2103" dy="16.7">，更要命的是，小a越来越发现自己并不适合</tspan><tspan x="2103" dy="16.7">先前选择的这份工作，而公司内部转岗的可能</tspan><tspan x="2103" dy="16.7">性也几乎为0，结果小a的高薪很快一去不返;</tspan><tspan x="2103" dy="16.7">而小b所在的公司却越发展越好，工作也是越</tspan><tspan x="2103" dy="16.7">做越有劲，小b的工资也因此水涨船高。为什</tspan><tspan x="2103" dy="16.7">么同样优秀的他们，最后的发展出现如此大的</tspan><tspan x="2103" dy="16.7">差异呢?分析表明，小a失败的关键就在于，</tspan><tspan x="2103" dy="16.7">他过分看重眼前的高薪而没有对未来的发展做</tspan><tspan x="2103" dy="16.7">理性的规划。</tspan></text>
<text class="t" x="1950" y="6547">二、亲人和朋友的影响</text>
<text class="t" x="2117" y="6475">大学生缺乏社会经验，有时也缺乏判断力，家<tspan x="2117" dy="16.7">人的选择通常会对他们最终的选择产生相当大</tspan><tspan x="2117" dy="16.7">的影响。还有些学生朋友则很喜欢攀比，朋友</tspan><tspan x="2117" dy="16.7">找什么样的工作，自己也不假思索地跟着去。</tspan></text>
<text class="t" x="2117" y="6584">职业规划专家认为，适当听取家人和朋友的意<tspan x="2117" dy="16.7">见是必要的，但最关键的是要有自己的主见。</tspan></text>
<text class="t" x="1950" y="6736">三、社会环境、竞争环境对择业决策的影响</text>
<text class="t" x="2235" y="6659">可能你的专业在就业时很受限制，也可能就业<tspan x="2235" dy="16.7">压力确实很大，也许你的相关专业正是冷门，</tspan><tspan x="2235" dy="16.7">站你“没得选择”;当然也许某些职业显得很热</tspan><tspan x="2235" dy="16.7">门，你会不由自主地跟着别人一起选择。对此</tspan><tspan x="2235" dy="16.7">，我们特别要提醒的是，就算你真的“没得选</tspan><tspan x="2235" dy="16.7">择”，也要选择一个与你目标接近的职业，再</tspan><tspan x="2235" dy="16.7">静待时机寻求转换。不要盲目追随热点行业，</tspan><tspan x="2235" dy="16.7">再热的行当都有可能会冷，现在的冷门行业将</tspan><tspan x="2235" dy="16.7">来也可能转热。当年的会计行业、现在的it行</tspan><tspan x="2235" dy="16.7">业就证明了一点。</tspan></text>
<text class="t" x="1950" y="6964">四、个人志向对择业决策的影响</text>
<text class="t" x="2168" y="6868">研究表明，志向远大者，都会有明确的发展目<tspan x="2168" dy="16.7">标及职业生涯规划。这些人都会始终关注自己</tspan><tspan x="2168" dy="16.7">该走什么样的职业发展道路，什么样的选择会</tspan><tspan x="2168" dy="16.7">对自己更加有利。对于他们来说，前面的三个</tspan><tspan x="2168" dy="16.7">问题根本不是问题，或说只是暂时的问题。</tspan></text>
<text class="t" x="2168" y="6994">而没有目标或目标不明者，则多会安于现状，<tspan x="2168" dy="16.7">或者说不知道怎么改变。如在择业上，常会是</tspan><tspan x="2168" dy="16.7">因为没有主意所以就不去选择，于是找个工作</tspan><tspan x="2168" dy="16.7">就可以了，“就业吧，先!”这类人最需要外力</tspan><tspan x="2168" dy="16.7">的帮助，特别是在择业这样关键的决策上。</tspan></text>
<text class="t" x="1774" y="7380">毕业生职业生涯规划相关文章：</text>
<text class="t" x="1993" y="7119">★ 大学生职业生涯规划书范本5篇</text>
<text class="t" x="1993" y="7177">★ 大学生职业生涯规划范文模板10篇</text>
<text class="t" x="1993" y="7235">★ 大学生未来的职业生涯规划范文5篇</text>
<text class="t" x="1993" y="7293">★ 大学生优秀职业生涯规划书5篇</text>
<text class="t" x="1993" y="7351">★ 大学生职业生涯规划书最新范文模板10篇</text>
<text class="t" x="1993" y="7409">★ 大学生未来的职业生涯规划例文5篇</text>
<text class="t" x="1993" y="7467">★ 大学生个人职业生涯规划书模板(8篇)2022</text>
<text class="t" x="1993" y="7525">★ 大学生职业生涯规划书模板5篇</text>
<text class="t" x="1993" y="7582">★ 大学未来的职业生涯规划范文5篇</text>
<text class="t" x="1993" y="7641">★ 最新大学生职业生涯规划书大全【7篇】</text>
</g>

<g id="watermark">
<text class="wm" x="630" y="585" transform="rotate(-30 630 540)">树图 shutu.cn</text>
<text class="wm" x="1911" y="585" transform="rotate(-30 1911 540)">树图 shutu.cn</text>
<text class="wm" x="630" y="1585" transform="rotate(-30 630 1540)">树图 shutu.cn</text>
<text class="wm" x="1911" y="1585" transform="rotate(-30 1911 1540)">树图 shutu.cn</text>
<text class="wm" x="630" y="2585" transform="rotate(-30 630 2540)">树图 shutu.cn</text>
<text class="wm" x="1911" y="2585" transform="rotate(-30 1911 2540)">树图 shutu.cn</text>
<text class="wm" x="630" y="3585" transform="rotate(-30 630 3540)">树图 shutu.cn</text>
<text class="wm" x="1911" y="3585" transform="rotate(-30 1911 3540)">树图 shutu.cn</text>
<text class="wm" x="630" y="4585" transform="rotate(-30 630 4540)">树图 shutu.cn</text>
<text class="wm" x="1911" y="4585" transform="rotate(-30 1911 4540)">树图 shutu.cn</text>
<text class="wm" x="630" y="5585" transform="rotate(-30 630 5540)">树图 shutu.cn</text>
<text class="wm" x="1911" y="5585" transform="rotate(-30 1911 5540)">树图 shutu.cn</text>
<text class="wm" x="630" y="6585" transform="rotate(-30 630 6540)">树图 shutu.cn</text>
<text class="wm" x="1911" y="6585" transform="rotate(-30 1911 6540)">树图 shutu.cn</text>
<text class="wm" x="630" y="7455" transform="rotate(-30 630 7410)">树图 shutu.cn</text>
<text class="wm" x="1911" y="7455" transform="rotate(-30 1911 7410)">树图 shutu.cn</text>
</g>
</g>
</svg>
